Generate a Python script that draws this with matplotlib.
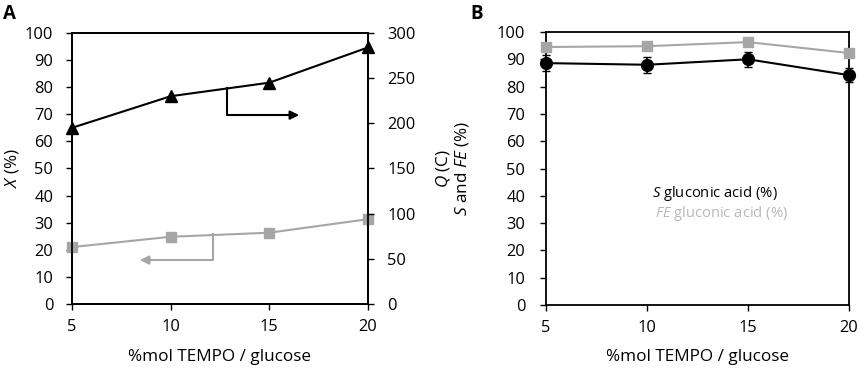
import matplotlib
matplotlib.use("Agg")
import matplotlib.pyplot as plt

plt.rcParams['font.family'] = ['Open Sans', 'DejaVu Sans']
plt.rcParams['mathtext.fontset'] = 'custom'
plt.rcParams['mathtext.rm'] = 'Open Sans'
plt.rcParams['mathtext.it'] = 'Open Sans:italic'

tempo = [5, 10, 15, 20]
# Panel A
conv_X = [21.0, 24.8, 26.3, 31.3]          # X (%) left axis, grey squares
charge_Q = [195, 230, 245, 284]            # Q (C) right axis, black triangles
# Panel B
sel_S = [88.6, 88.0, 90.0, 84.2]
sel_S_err = [3.0, 3.0, 2.7, 2.5]
fe_FE = [94.5, 94.8, 96.3, 92.3]
fe_FE_err = [0.8, 1.0, 0.8, 0.8]

grey = '#a6a6a6'
fs_tick = 11.8
fs_lab = 12.3
fs_leg = 10.6
W, H = 858.0, 369.0

fig = plt.figure(figsize=(8.58, 3.69), dpi=100)
axA = fig.add_axes([0.0839, 0.1762, 0.345, 0.7344])
axQ = axA.twinx()

axA.plot(tempo, conv_X, color=grey, lw=1.5, marker='s', ms=7.5, zorder=3, clip_on=False)
axQ.plot(tempo, charge_Q, color='black', lw=1.5, marker='^', ms=8, zorder=3, clip_on=False)

axA.set_xlim(5, 20)
axA.set_ylim(0, 100)
axQ.set_ylim(0, 300)
axA.set_xticks(tempo)
axA.set_yticks(range(0, 101, 10))
axQ.set_yticks(range(0, 301, 50))
for ax in (axA, axQ):
    ax.tick_params(labelsize=fs_tick, length=4, width=1, direction='out', colors='black')
    for s in ax.spines.values():
        s.set_linewidth(1.3)
axA.tick_params(axis='x', pad=7)
axA.tick_params(axis='y', pad=9.5)
axQ.tick_params(axis='y', pad=10)

fig.text(220 / W, 1 - 357 / H, '%mol TEMPO / glucose', fontsize=fs_lab, ha='center', va='center')
fig.text(12 / W, 1 - 168 / H, r'$\it{X}$ (%)', fontsize=fs_lab, ha='center', va='center', rotation=90)
fig.text(443 / W, 1 - 168 / H, r'$\it{Q}$ (C)', fontsize=fs_lab, ha='center', va='center', rotation=90)

# arrows
axA.plot([12.85, 12.85, 16.3], [79.7, 69.7, 69.7], color='black', lw=1.5)
axA.annotate('', xy=(16.65, 69.7), xytext=(16.0, 69.7),
             arrowprops=dict(arrowstyle='-|>', color='black', lw=1.5, mutation_scale=13))
axA.plot([12.15, 12.15, 8.6], [25.8, 16.2, 16.2], color=grey, lw=1.5)
axA.annotate('', xy=(8.3, 16.2), xytext=(8.9, 16.2),
             arrowprops=dict(arrowstyle='-|>', color=grey, lw=1.5, mutation_scale=13))

fig.text(0.004, 0.99, 'A', fontsize=13.5, fontweight='bold', va='top', ha='left')

# Panel B
axB = fig.add_axes([0.6364, 0.1734, 0.3531, 0.7399])
axB.errorbar(tempo, fe_FE, yerr=fe_FE_err, color=grey, lw=1.5, marker='s', ms=7.5,
             capsize=3, elinewidth=1.2, zorder=3, clip_on=False)
axB.errorbar(tempo, sel_S, yerr=sel_S_err, color='black', lw=1.5, marker='o', ms=8.5,
             capsize=3, elinewidth=1.2, zorder=4, clip_on=False)
axB.set_xlim(5, 20)
axB.set_ylim(0, 100)
axB.set_xticks(tempo)
axB.set_yticks(range(0, 101, 10))
axB.tick_params(labelsize=fs_tick, length=4, width=1, direction='out')
axB.tick_params(axis='x', pad=7)
axB.tick_params(axis='y', pad=11)
for s in axB.spines.values():
    s.set_linewidth(1.3)

fig.text(697 / W, 1 - 357 / H, '%mol TEMPO / glucose', fontsize=fs_lab, ha='center', va='center')
fig.text(462 / W, 1 - 168 / H, r'$\it{S}$ and $\it{FE}$ (%)', fontsize=fs_lab, ha='center', va='center', rotation=90)

axB.text(10.25, 41, r'$\it{S}$ gluconic acid (%)', fontsize=fs_leg, color='black', va='center')
axB.text(10.4, 33.7, r'$\it{FE}$ gluconic acid (%)', fontsize=fs_leg, color='#b8b8b8', va='center')

fig.text(0.548, 0.99, 'B', fontsize=13.5, fontweight='bold', va='top', ha='left')

fig.savefig('out.png', dpi=100)
